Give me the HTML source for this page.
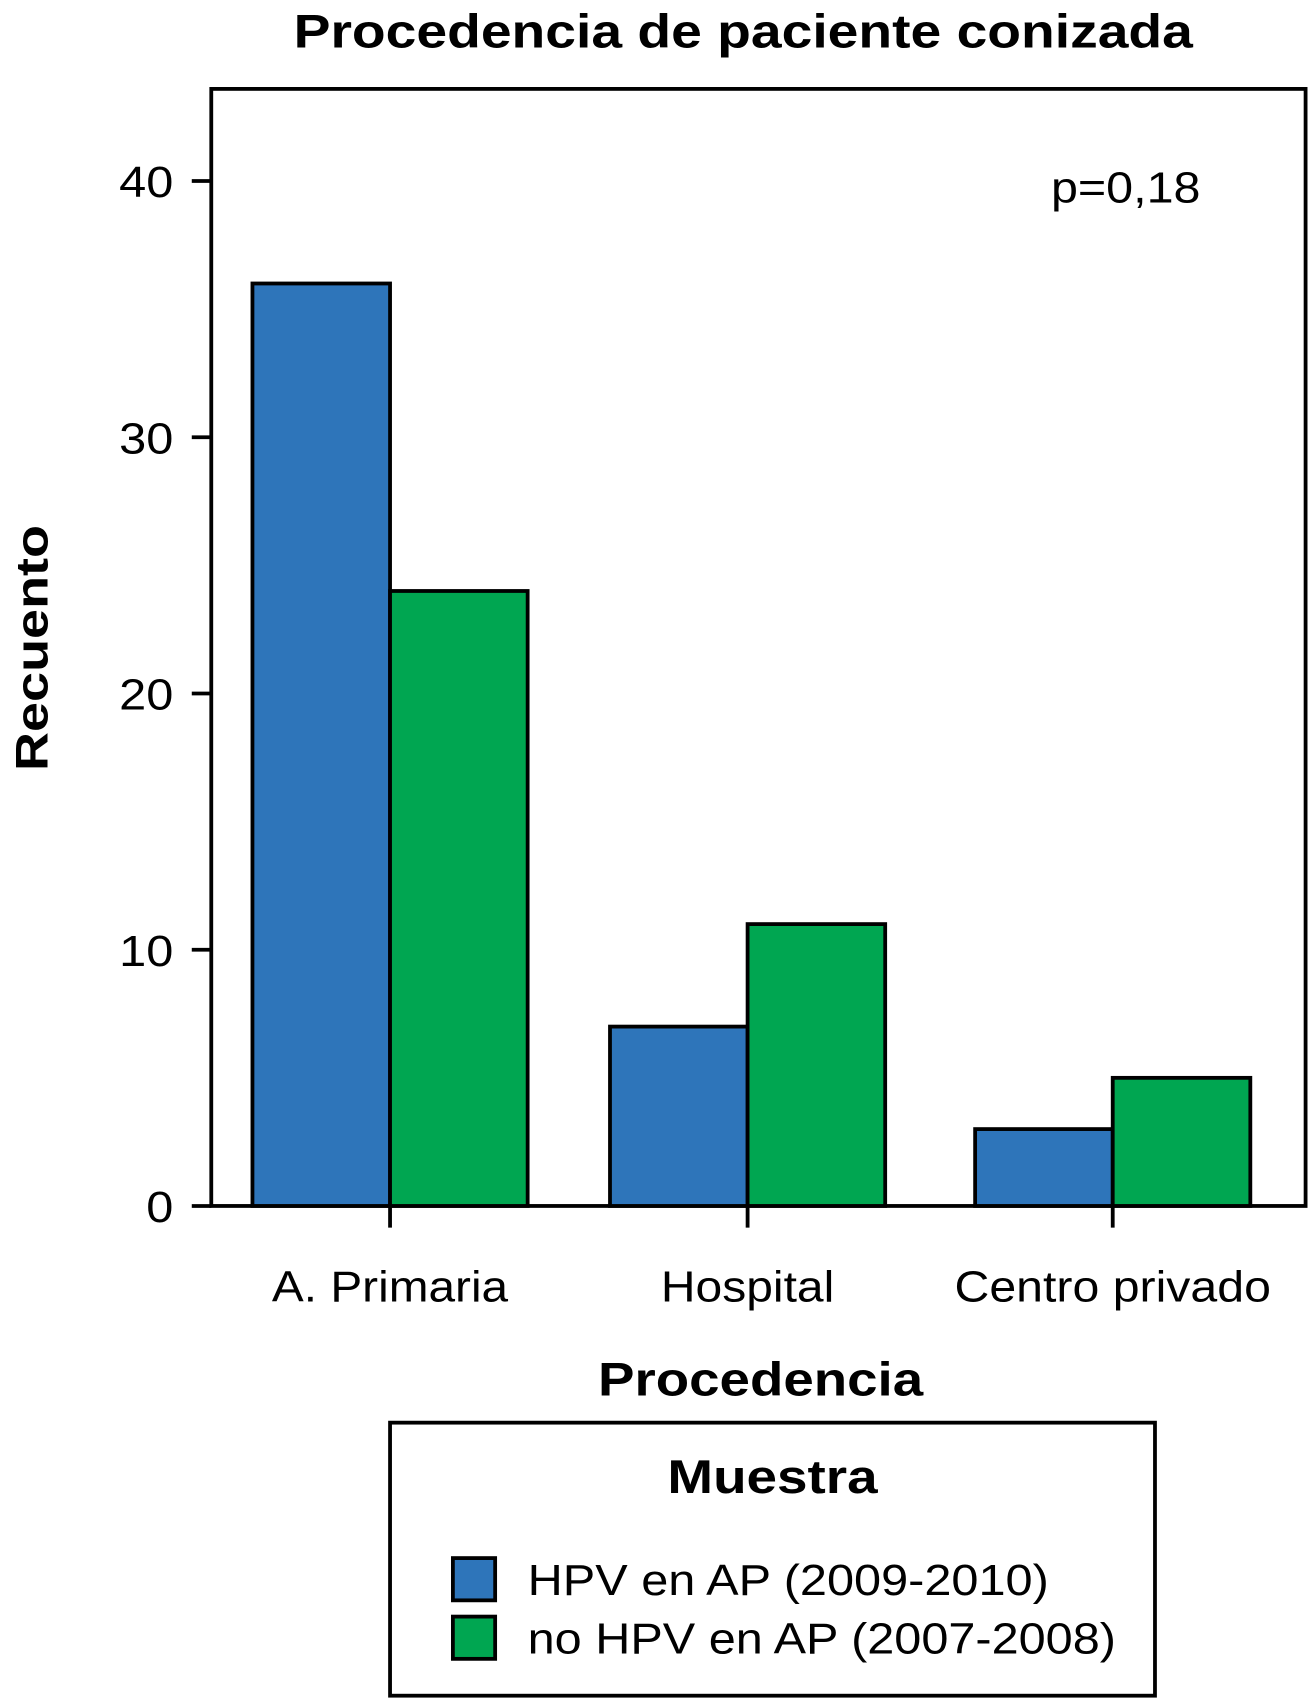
<!DOCTYPE html>
<html><head><meta charset="utf-8"><style>
html,body{margin:0;padding:0;background:#fff;}
svg{display:block;font-family:"Liberation Sans",Arial,sans-serif;}
</style></head><body>
<svg id="chart" width="1311" height="1699" viewBox="0 0 1210 1568" xmlns="http://www.w3.org/2000/svg">
<rect width="1210" height="1568" fill="#fff"/>
<text x="271" y="44" font-size="44" font-weight="bold" textLength="830" lengthAdjust="spacingAndGlyphs">Procedencia de paciente conizada</text>
<rect x="195" y="82" width="1010" height="1031" fill="none" stroke="#000" stroke-width="3.5"/>
<g id="bars"></g>
<g id="axes"></g>
<text x="970" y="187" font-size="40" textLength="138" lengthAdjust="spacingAndGlyphs">p=0,18</text>
<text transform="translate(44,598) rotate(-90)" text-anchor="middle" font-size="42" font-weight="bold" textLength="227" lengthAdjust="spacingAndGlyphs">Recuento</text>
<text x="552" y="1288" font-size="44" font-weight="bold" textLength="300" lengthAdjust="spacingAndGlyphs">Procedencia</text>
<g>
<rect x="360" y="1313" width="706" height="252" fill="none" stroke="#000" stroke-width="3.5"/>
<text x="616" y="1378" font-size="44" font-weight="bold" textLength="194" lengthAdjust="spacingAndGlyphs">Muestra</text>
<rect x="418" y="1438" width="39" height="39" fill="#2e75ba" stroke="#000" stroke-width="3.5"/>
<text x="487" y="1472" font-size="40" textLength="481" lengthAdjust="spacingAndGlyphs">HPV en AP (2009-2010)</text>
<rect x="418" y="1492" width="39" height="39" fill="#00a651" stroke="#000" stroke-width="3.5"/>
<text x="487" y="1526" font-size="40" textLength="543" lengthAdjust="spacingAndGlyphs">no HPV en AP (2007-2008)</text>
</g>
</svg>
<script>
const categories = ["A. Primaria", "Hospital", "Centro privado"];
const hpvValues = [36, 7, 3];
const noHpvValues = [24, 11, 5];
const yTicks = [0, 10, 20, 30, 40];
const catLabelWidths = [218, 160, 292];

const NS = "http://www.w3.org/2000/svg";
const y0 = 1113, yPer = (1113 - 167) / 40;
function yScale(v){ return y0 - v * yPer; }
const catCenters = [360, 690, 1027];
function xScale(i){ return catCenters[i]; }
const barW = 127;
const bars = document.getElementById('bars');
const axes = document.getElementById('axes');
function mk(tag, attrs, parent){ const e = document.createElementNS(NS, tag); for (const k in attrs) e.setAttribute(k, attrs[k]); parent.appendChild(e); return e; }

categories.forEach((c, i) => {
  const cx = xScale(i);
  const b1 = mk('rect', {x: cx - barW, y: yScale(hpvValues[i]), width: barW, height: y0 - yScale(hpvValues[i]), fill: '#2e75ba', stroke: '#000', 'stroke-width': 3.5}, bars);
  
  
  const b2 = mk('rect', {x: cx, y: yScale(noHpvValues[i]), width: barW, height: y0 - yScale(noHpvValues[i]), fill: '#00a651', stroke: '#000', 'stroke-width': 3.5}, bars);
  
  
  const t = mk('line', {x1: cx, x2: cx, y1: y0, y2: 1133, stroke: '#000', 'stroke-width': 3.5}, axes);
  
  
  const l = mk('text', {x: cx, y: 1201, 'text-anchor': 'middle', 'font-size': 40, textLength: catLabelWidths[i], lengthAdjust: 'spacingAndGlyphs'}, axes);
  l.textContent = c;
  
  
});
yTicks.forEach(v => {
  const y = yScale(v);
  const t = mk('line', {x1: 177, x2: 195, y1: y, y2: y, stroke: '#000', 'stroke-width': 3.5}, axes);
  
  
  const w = String(v).length * 25;
  const l = mk('text', {x: 160, y: y + 15, 'text-anchor': 'end', 'font-size': 40, textLength: w, lengthAdjust: 'spacingAndGlyphs'}, axes);
  l.textContent = v;
  
  
});
</script>
</body></html>
